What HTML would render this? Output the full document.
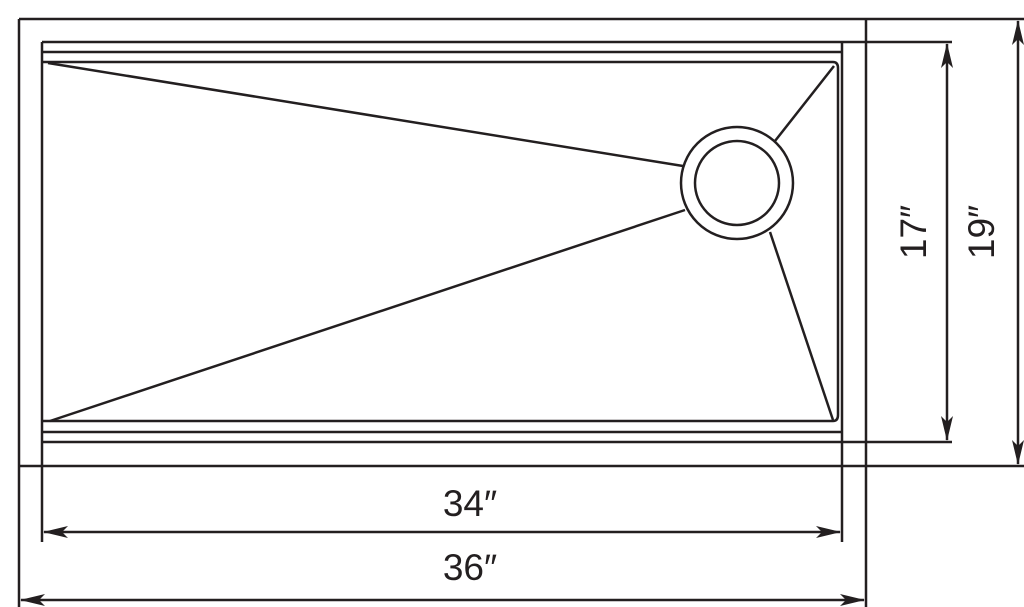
<!DOCTYPE html>
<html><head><meta charset="utf-8"><style>
html,body{margin:0;padding:0;background:#fff;}
svg{display:block;}
text{font-family:"Liberation Sans",sans-serif;fill:#231f20;}
</style></head><body>
<svg width="1024" height="607" viewBox="0 0 1024 607" xmlns="http://www.w3.org/2000/svg">
<g stroke="#231f20" fill="none" stroke-width="2.5">
<!-- outer -->
<line x1="19" y1="19" x2="1024" y2="19"/>
<line x1="19" y1="19" x2="19" y2="607"/>
<line x1="866" y1="19" x2="866" y2="607"/>
<line x1="19" y1="466" x2="1024" y2="466"/>
<!-- inner -->
<line x1="42" y1="42" x2="952" y2="42"/>
<line x1="42" y1="42" x2="42" y2="542"/>
<line x1="842" y1="42" x2="842" y2="542"/>
<line x1="42" y1="442" x2="952" y2="442"/>
<line x1="42" y1="52" x2="842" y2="52"/>
<line x1="42" y1="432" x2="842" y2="432"/>
<path d="M42 62 H833 Q838 62 838 68 V415 Q838 421 833 421 H42"/>
<!-- drain lines -->
<line x1="48" y1="63" x2="683" y2="166"/>
<line x1="50" y1="421" x2="685" y2="210"/>
<line x1="834" y1="66" x2="775" y2="141"/>
<line x1="770" y1="232" x2="833" y2="420"/>
<circle cx="737" cy="183" r="56"/>
<circle cx="737" cy="183" r="42"/>
<!-- dim lines -->
<line x1="947" y1="44" x2="947" y2="440"/>
<line x1="1018" y1="21" x2="1018" y2="464"/>
<line x1="44" y1="532" x2="840" y2="532"/>
<line x1="21" y1="600" x2="864" y2="600"/>
</g>
<g fill="#231f20">
<path d="M947 43 L941 68 L947 62 L953 68Z"/>
<path d="M947 441 L941 416 L947 422 L953 416Z"/>
<path d="M1018 20 L1012 45 L1018 39 L1024 45Z"/>
<path d="M1018 465 L1012 440 L1018 446 L1024 440Z"/>
<path d="M43 532 L68 526 L62 532 L68 538Z"/>
<path d="M841 532 L816 526 L822 532 L816 538Z"/>
<path d="M20 600 L45 594 L39 600 L45 606Z"/>
<path d="M865 600 L840 594 L846 600 L840 606Z"/>
</g>
<text x="470" y="516" font-size="37" text-anchor="middle">34″</text>
<text x="470" y="580" font-size="37" text-anchor="middle">36″</text>
<text transform="translate(926,232) rotate(-90)" font-size="37" text-anchor="middle">17″</text>
<text transform="translate(994,232) rotate(-90)" font-size="37" text-anchor="middle">19″</text>
</svg>
</body></html>
